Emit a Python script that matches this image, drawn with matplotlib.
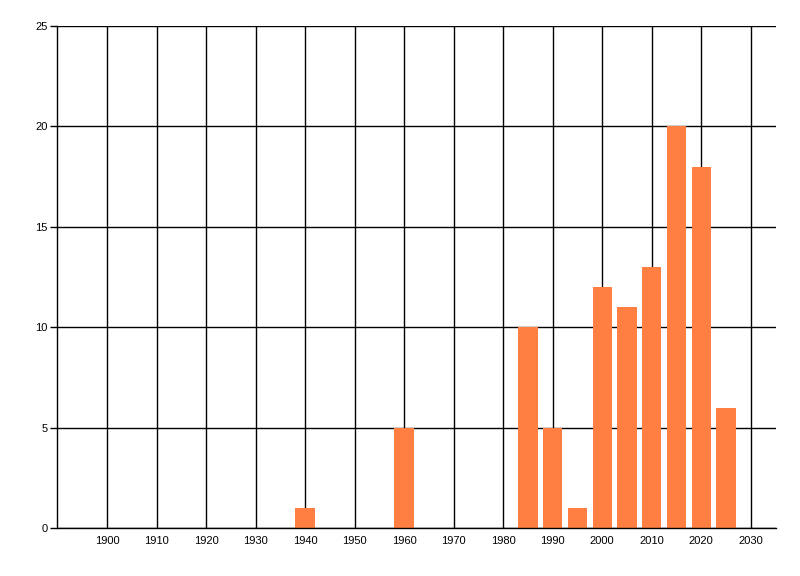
import matplotlib
matplotlib.use("Agg")
import matplotlib.pyplot as plt

# bar data: year -> count
years = [1940, 1960, 1985, 1990, 1995, 2000, 2005, 2010, 2015, 2020, 2025]
counts = [1, 5, 10, 5, 1, 12, 11, 13, 20, 18, 6]
x_ticks = list(range(1900, 2031, 10))
y_ticks = [0, 5, 10, 15, 20, 25]

plt.rcParams['font.family'] = ['Liberation Sans', 'DejaVu Sans']

fig = plt.figure(figsize=(8, 5.76), dpi=100)
ax = fig.add_axes([57.5 / 800, 48 / 576, 718 / 800, 502 / 576])

ax.bar(years, counts, width=3.9, color="#FF7F42", zorder=3)

ax.set_xlim(1890, 2035)
ax.set_ylim(0, 25)
ax.set_xticks(x_ticks)
ax.set_yticks(y_ticks)
ax.grid(True, color="black", linewidth=1, zorder=0)
ax.set_axisbelow(True)

for s in ["top", "right"]:
    ax.spines[s].set_visible(False)
for s in ["left", "bottom"]:
    ax.spines[s].set_linewidth(1)
    ax.spines[s].set_zorder(4)

ax.tick_params(axis="x", length=0, pad=6, labelsize=8)
ax.tick_params(axis="y", length=5, width=1, pad=2, labelsize=8)

plt.savefig("out.png", dpi=100)
